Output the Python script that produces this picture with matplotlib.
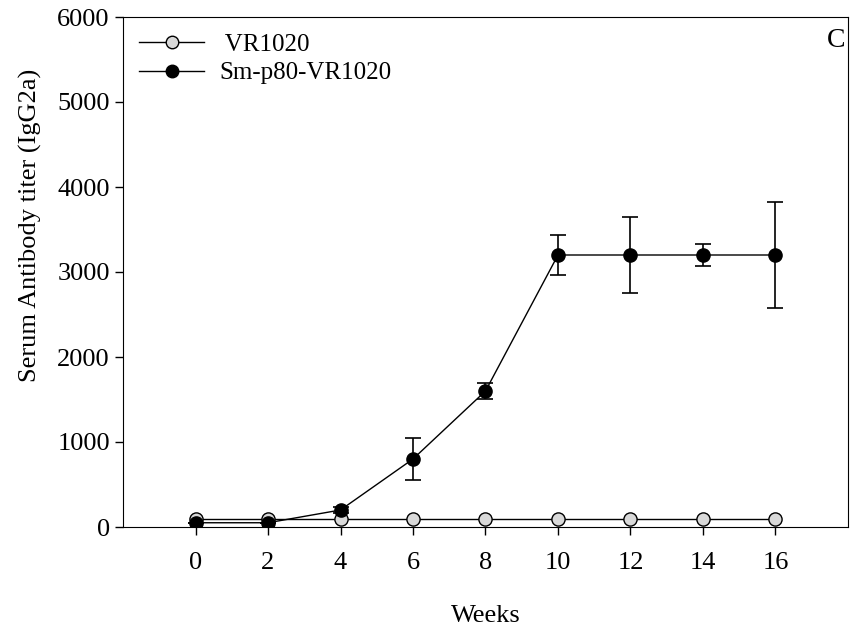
import numpy as np
import matplotlib.pyplot as plt
from matplotlib.lines import Line2D

plt.rcParams['font.family'] = ['Liberation Serif', 'DejaVu Serif']

weeks = [0, 2, 4, 6, 8, 10, 12, 14, 16]
vr1020 = [100, 100, 100, 100, 100, 100, 100, 100, 100]
sm_p80 = [50, 50, 200, 800, 1600, 3200, 3200, 3200, 3200]
sm_p80_err = [0, 0, 30, 245, 90, 235, 447, 130, 620]

fig = plt.figure(figsize=(8.5, 6.35), dpi=100)
ax = fig.add_axes([123/850, 108/635, 725/850, 510/635])

ax.plot(weeks, vr1020, '-o', color='black', lw=1, mfc='#d9d9d9', mec='black',
        mew=1, ms=9.5, zorder=3)
ax.errorbar(weeks, sm_p80, yerr=sm_p80_err, fmt='-o', color='black', lw=1,
            ms=9.5, elinewidth=1.2, capsize=5.5, capthick=1.2, zorder=4)

ax.set_xlim(-2, 18)
ax.set_ylim(0, 6000)
ax.set_xticks(weeks)
ax.set_yticks(range(0, 6001, 1000))
ax.tick_params(direction='out', length=6, labelsize=19, width=1)
ax.tick_params(axis='x', pad=12)
ax.set_xlabel('Weeks', fontsize=19, labelpad=22)
ax.set_ylabel('Serum Antibody titer (IgG2a)', fontsize=19)
ax.yaxis.set_label_coords(-0.112, 0.592)
ax.text(0.996, 0.978, 'C', transform=ax.transAxes, ha='right', va='top', fontsize=20)

handles = [
    Line2D([], [], color='black', lw=1, marker='o', mfc='#d9d9d9', mec='black', ms=9),
    Line2D([], [], color='black', lw=1, marker='o', mfc='black', mec='black', ms=9),
]
ax.legend(handles, [' VR1020', 'Sm-p80-VR1020'], loc='upper left', frameon=False,
          fontsize=18, handlelength=2.6, borderaxespad=0.25, handletextpad=0.6,
          labelspacing=0.25)

fig.savefig('out.png', dpi=100)
